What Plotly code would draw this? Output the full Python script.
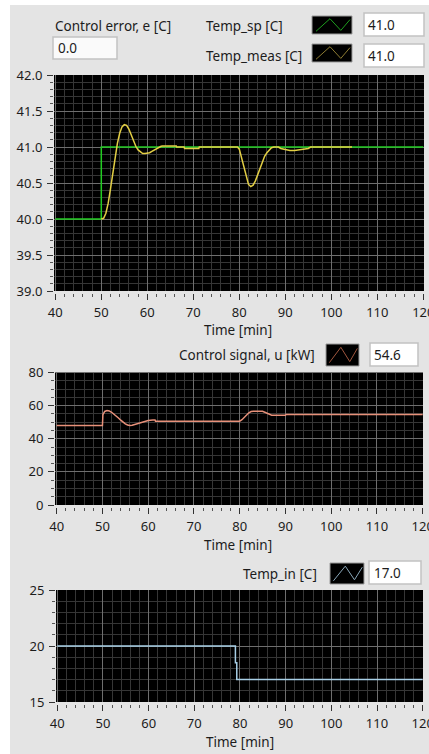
import plotly.graph_objects as go

# ---------------- data ----------------
time_sp = [40, 50, 120]
temp_sp = [40.0, 41.0, 41.0]

time_meas = [50, 50.5, 51, 51.5, 52, 52.5, 53, 53.5, 54, 54.5, 55, 55.5, 56, 56.5, 57, 57.5,
             58, 58.5, 59, 59.5, 60, 60.5, 61, 61.5, 62, 62.5, 63, 63.3, 66.3, 66.4, 68, 68.1,
             71.2, 71.3, 79.6, 80, 80.5, 81, 81.5, 82, 82.5, 83, 83.5, 84, 84.5, 85, 85.5, 86,
             86.5, 87, 87.5, 88.5, 89, 90, 91, 92, 93, 94, 95, 95.5, 104.5]
temp_meas = [40.00, 40.01, 40.08, 40.22, 40.42, 40.64, 40.86, 41.05, 41.19, 41.28, 41.31, 41.30,
             41.25, 41.17, 41.09, 41.01, 40.96, 40.93, 40.91, 40.91, 40.91, 40.92, 40.94, 40.96,
             40.98, 41.00, 41.01, 41.015, 41.015, 41.0, 41.0, 40.98, 40.98, 41.0, 41.0, 40.97,
             40.85, 40.70, 40.57, 40.48, 40.45, 40.47, 40.53, 40.62, 40.72, 40.80, 40.87, 40.92,
             40.96, 40.99, 41.0, 41.0, 40.98, 40.96, 40.95, 40.95, 40.96, 40.97, 40.98, 41.0, 41.0]

time_u = [40, 50, 50.1, 50.5, 51, 51.5, 52, 52.5, 53, 53.5, 54, 54.5, 55, 55.5, 56, 56.5, 57,
          58, 59, 60, 61, 61.5, 61.6, 80, 80.5, 81, 81.5, 82, 82.5, 83, 85, 85.5, 86, 86.5, 87,
          90, 90.1, 120]
control_u = [48.0, 48.0, 54.5, 56.5, 57.0, 56.8, 56.0, 55.0, 53.8, 52.5, 51.2, 50.0, 49.0, 48.3,
             48.0, 48.2, 48.6, 49.5, 50.3, 51.0, 51.3, 51.3, 50.6, 50.6, 51.5, 53.0, 54.5, 55.7,
             56.4, 56.6, 56.6, 56.0, 55.3, 54.6, 54.2, 54.2, 54.6, 54.6]

time_in = [40, 79.0, 79.3, 120]
temp_in = [20.0, 18.5, 17.0, 17.0]

x_ticks = [40, 50, 60, 70, 80, 90, 100, 110, 120]

# indicator values
err_value = "0.0"
sp_value = "41.0"
meas_value = "41.0"
u_value = "54.6"
tin_value = "17.0"

# ---------------- styling ----------------
W, H = 429, 754
FONT = "Segoe UI, Noto Sans, Open Sans, sans-serif"
FS = 13.5
FS_TICK = 13
PANEL = "#e4e4e4"
MAJ = "#6e6e6e"
MIN = "#363636"
TXT = "#1c1c1c"

C_SP = "#22cc22"
C_MEAS = "#e3cf45"
C_U = "#e8917a"
C_IN = "#a8cfe6"


def fx(px):
    return px / W


def fy(py):
    return 1 - py / H


fig = go.Figure()

fig.add_trace(go.Scatter(x=time_sp, y=temp_sp, mode="lines", line=dict(color=C_SP, width=1.5, shape="hv"),
                         xaxis="x", yaxis="y", showlegend=False))
fig.add_trace(go.Scatter(x=time_meas, y=temp_meas, mode="lines", line=dict(color=C_MEAS, width=1.5),
                         xaxis="x", yaxis="y", showlegend=False))
fig.add_trace(go.Scatter(x=time_u, y=control_u, mode="lines", line=dict(color=C_U, width=1.5),
                         xaxis="x2", yaxis="y2", showlegend=False))
fig.add_trace(go.Scatter(x=time_in, y=temp_in, mode="lines", line=dict(color=C_IN, width=1.5, shape="hv"),
                         xaxis="x3", yaxis="y3", showlegend=False))

panels = [
    dict(l=54, r=424, t=75, b=291, xr=[39.72, 120.15], yr=[39.0, 42.0], dt=0.5, mdt=0.1, fmt=".1f"),
    dict(l=55, r=423, t=372.5, b=505, xr=[39.63, 120.07], yr=[0, 80], dt=20, mdt=5, fmt="d"),
    dict(l=56, r=423, t=590, b=702, xr=[39.72, 120.07], yr=[15, 25], dt=5, mdt=1, fmt="d"),
]

axes = {}
for i, p in enumerate(panels):
    sfx = "" if i == 0 else str(i + 1)
    axes["xaxis" + sfx] = dict(
        domain=[fx(p["l"]), fx(p["r"])], range=p["xr"], anchor="free", position=fy(p["b"] + 2),
        tickvals=x_ticks, ticks="outside", ticklen=6, tickwidth=1, tickcolor="#333",
        showgrid=True, gridcolor=MAJ, gridwidth=1, zeroline=False, showline=False,
        tickfont=dict(family=FONT, size=FS_TICK, color=TXT), ticklabelstandoff=1, automargin=False,
        ticklabeloverflow="allow",
        minor=dict(dtick=2, tick0=40, showgrid=True, gridcolor=MIN, gridwidth=1,
                   ticks="outside", ticklen=3, tickcolor="#555"),
        fixedrange=True,
    )
    axes["yaxis" + sfx] = dict(
        domain=[fy(p["b"]), fy(p["t"])], range=p["yr"], anchor="free", position=fx(p["l"] - 1),
        dtick=p["dt"], tick0=p["yr"][0], tickformat=p["fmt"], ticks="outside", ticklen=6,
        tickwidth=1, tickcolor="#333",
        showgrid=True, gridcolor=MAJ, gridwidth=1, zeroline=False, showline=False,
        tickfont=dict(family=FONT, size=FS_TICK, color=TXT), ticklabelstandoff=2, automargin=False,
        ticklabeloverflow="allow",
        minor=dict(dtick=p["mdt"], showgrid=True, gridcolor=MIN, gridwidth=1,
                   ticks="outside", ticklen=3, tickcolor="#555"),
        fixedrange=True,
    )

shapes = []
shapes.append(dict(type="rect", xref="paper", yref="paper", x0=fx(10), x1=1, y0=0,
                   y1=fy(5), fillcolor=PANEL, line=dict(width=0), layer="below"))
for p in panels:
    shapes.append(dict(type="rect", xref="paper", yref="paper", x0=fx(p["l"]), x1=fx(p["r"]),
                       y0=fy(p["b"]), y1=fy(p["t"]), fillcolor="#000000", line=dict(width=0),
                       layer="below"))


def box(x0, y0, x1, y1, fill="#ffffff"):
    shapes.append(dict(type="rect", xref="paper", yref="paper", x0=fx(x0), x1=fx(x1), y0=fy(y1), y1=fy(y0),
                       fillcolor=fill, line=dict(color="#c2c2c2", width=1.5)))


def swatch(x0, y0, x1, y1, color):
    shapes.append(dict(type="rect", xref="paper", yref="paper", x0=fx(x0), x1=fx(x1), y0=fy(y1), y1=fy(y0),
                       fillcolor="#000000", line=dict(color="#9a9a9a", width=1)))
    w = x1 - x0
    h = y1 - y0
    pts = [(x0 + 0.10 * w, y0 + 0.85 * h), (x0 + 0.45 * w, y0 + 0.15 * h),
           (x0 + 0.72 * w, y0 + 0.80 * h), (x0 + 0.95 * w, y0 + 0.20 * h)]
    path = "M " + " L ".join(f"{fx(a):.5f},{fy(b):.5f}" for a, b in pts)
    shapes.append(dict(type="path", xref="paper", yref="paper", path=path, line=dict(color=color, width=1)))


annotations = []


def text(s, x, y, anchor="left", size=FS):
    annotations.append(dict(text=s, xref="paper", yref="paper", x=fx(x), y=fy(y), xanchor=anchor,
                            yanchor="middle", showarrow=False, borderpad=0,
                            font=dict(family=FONT, size=size, color=TXT)))


text("Control error, e [C]", 54, 26)
box(53, 37, 117, 59, fill="#fafafa")
text(err_value, 57, 48)
text("Temp_sp [C]", 284, 26, anchor="right")
swatch(312, 16, 352, 34, "#1e9e1e")
box(364, 13, 424, 36)
text(sp_value, 367, 25)
text("Temp_meas [C]", 303, 56, anchor="right")
swatch(312, 44, 352, 62, "#8e7c32")
box(364, 44, 424, 67)
text(meas_value, 367, 56)
text("Time [min]", 238, 330, anchor="center")

text("Control signal, u [kW]", 316, 355, anchor="right")
swatch(326, 344, 359, 366, "#a0563e")
box(370, 343, 418, 366)
text(u_value, 373, 355)
text("Time [min]", 238, 545, anchor="center")

text("Temp_in [C]", 318, 574, anchor="right")
swatch(330, 563, 364, 584, "#8aa8ba")
box(369, 561, 421, 584)
text(tin_value, 373, 573)
text("Time [min]", 240, 742, anchor="center")

fig.update_layout(
    width=W, height=H, margin=dict(l=0, r=0, t=0, b=0, pad=0, autoexpand=False),
    paper_bgcolor="#ffffff", plot_bgcolor="rgba(0,0,0,0)",
    shapes=shapes, annotations=annotations, showlegend=False,
    **axes,
)

# the page's default 8 px body margin is removed so the 429x754 figure fills the window
fig.write_html(
    "out.html",
    config={"displayModeBar": False},
    post_script="document.body.style.margin='0';document.body.style.overflow='hidden';"
                "document.documentElement.style.overflow='hidden';",
)
